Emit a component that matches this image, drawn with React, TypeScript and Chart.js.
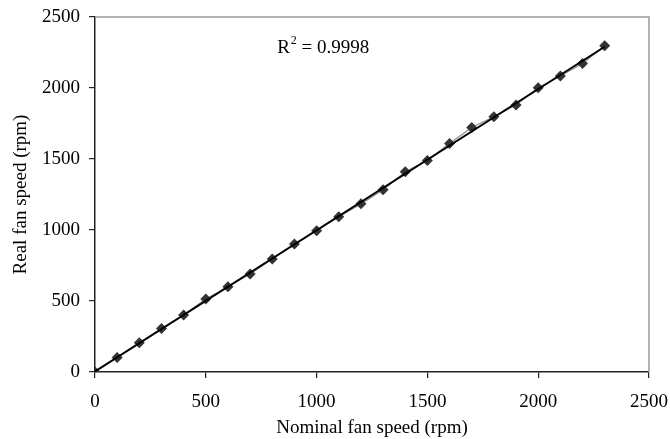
import React, { useEffect, useRef } from "react";
import { Chart, registerables } from "chart.js";

Chart.register(...registerables);

const nominalSpeed = [0, 100, 200, 300, 400, 500, 600, 700, 800, 900, 1000, 1100, 1200, 1300, 1400, 1500, 1600, 1700, 1800, 1900, 2000, 2100, 2200, 2300];
const realSpeed = [0, 102, 206, 306, 401, 514, 601, 690, 796, 901, 995, 1094, 1184, 1283, 1410, 1489, 1609, 1722, 1797, 1880, 2001, 2084, 2173, 2297];
const xTicks = [0, 500, 1000, 1500, 2000, 2500];
const yTicks = [0, 500, 1000, 1500, 2000, 2500];
const r2Label = "0.9998";

function regression(xs: number[], ys: number[]) {
  const n = xs.length;
  const mx = xs.reduce((a, b) => a + b, 0) / n;
  const my = ys.reduce((a, b) => a + b, 0) / n;
  let sxy = 0, sxx = 0;
  for (let i = 0; i < n; i++) {
    sxy += (xs[i] - mx) * (ys[i] - my);
    sxx += (xs[i] - mx) * (xs[i] - mx);
  }
  const slope = sxy / sxx;
  return { slope, intercept: my - slope * mx };
}

const FONT = "'Liberation Serif', 'Times New Roman', serif";
const FS = 19;

export default function App() {
  const ref = useRef<HTMLCanvasElement>(null);
  useEffect(() => {
    document.body.style.margin = "0";
    const { slope, intercept } = regression(nominalSpeed, realSpeed);
    const x0 = nominalSpeed[0];
    const x1 = nominalSpeed[nominalSpeed.length - 1];
    const trend = [
      { x: x0, y: intercept + slope * x0 },
      { x: x1, y: intercept + slope * x1 },
    ];

    const framePlugin = {
      id: "frame",
      beforeDatasetsDraw(chart: any) {
        const { ctx, chartArea } = chart;
        ctx.save();
        ctx.strokeStyle = "#9a9a9a";
        ctx.lineWidth = 1.5;
        ctx.beginPath();
        ctx.moveTo(chartArea.left, chartArea.top);
        ctx.lineTo(chartArea.right, chartArea.top);
        ctx.lineTo(chartArea.right, chartArea.bottom);
        ctx.stroke();
        ctx.restore();
      },
      afterDraw(chart: any) {
        const { ctx, scales } = chart;
        const px = scales.x.getPixelForValue(822);
        const py = scales.y.getPixelForValue(2285);
        ctx.save();
        ctx.fillStyle = "#000";
        ctx.textBaseline = "middle";
        ctx.textAlign = "left";
        ctx.font = `${FS}px ${FONT}`;
        ctx.fillText("R", px, py);
        const w = ctx.measureText("R").width;
        ctx.font = `12px ${FONT}`;
        ctx.fillText("2", px + w + 1, py - 7);
        const w2 = ctx.measureText("2").width;
        ctx.font = `${FS}px ${FONT}`;
        ctx.fillText(" = " + r2Label, px + w + w2 + 1, py);
        ctx.restore();
      },
    };

    const chart = new Chart(ref.current!, {
      type: "scatter",
      data: {
        datasets: [
          {
            label: "Real",
            data: nominalSpeed.map((x, i) => ({ x, y: realSpeed[i] })),
            showLine: true,
            borderColor: "#8a8a8a",
            borderWidth: 1.2,
            pointStyle: "rectRot",
            pointRadius: 5.5,
            pointBackgroundColor: "#333",
            pointBorderColor: "#333",
            pointBorderWidth: 0,
            order: 2,
          },
          {
            label: "Trend",
            data: trend,
            showLine: true,
            borderColor: "#000",
            borderWidth: 2,
            pointRadius: 0,
            order: 1,
          },
        ],
      },
      options: {
        animation: false,
        responsive: false,
        maintainAspectRatio: false,
        layout: { padding: { top: 17, right: 21, left: 10, bottom: 0 } },
        plugins: { legend: { display: false }, tooltip: { enabled: false } },
        scales: {
          x: {
            type: "linear",
            min: 0,
            max: 2500,
            afterBuildTicks: (s: any) => { s.ticks = xTicks.map((v) => ({ value: v })); },
            afterFit: (s: any) => { s.height = 439 - 372; s.paddingLeft = 0; s.paddingRight = 0; },
            grid: { display: true, drawOnChartArea: false, drawTicks: true, tickLength: 6, color: "#222", lineWidth: 1.2 },
            border: { display: true, color: "#222", width: 1.5 },
            ticks: { color: "#000", font: { family: FONT, size: FS }, padding: 13, maxRotation: 0, callback: (v: any) => String(v) },
            title: { display: true, text: "Nominal fan speed (rpm)", color: "#000", font: { family: FONT, size: FS }, padding: { top: 0, bottom: 0 } },
          },
          y: {
            type: "linear",
            min: 0,
            max: 2500,
            afterBuildTicks: (s: any) => { s.ticks = yTicks.map((v) => ({ value: v })); },
            afterFit: (s: any) => { s.width = 85; s.paddingTop = 0; s.paddingBottom = 0; },
            grid: { display: true, drawOnChartArea: false, drawTicks: true, tickLength: 6, color: "#222", lineWidth: 1.2 },
            border: { display: true, color: "#222", width: 1.5 },
            ticks: { color: "#000", font: { family: FONT, size: FS }, padding: 9, callback: (v: any) => String(v) },
            title: { display: true, text: "Real fan speed (rpm)", color: "#000", font: { family: FONT, size: FS }, padding: { top: 0, bottom: 4 } },
          },
        },
      },
      plugins: [framePlugin],
    });
    return () => chart.destroy();
  }, []);
  return (
    <div style={{ width: 670, height: 439, background: "#fff" }}>
      <canvas ref={ref} width={670} height={439} style={{ display: "block" }} />
    </div>
  );
}
